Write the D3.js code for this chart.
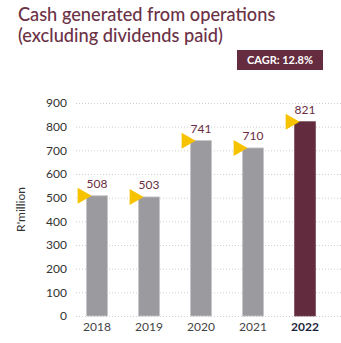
<!DOCTYPE html>
<html>
<head>
<meta charset="utf-8">
<script src="https://cdn.jsdelivr.net/npm/d3@7"></script>
<style>
  body { margin: 0; background: #fff; }
  svg { display: block; font-family: Lato, "Open Sans", sans-serif; }
</style>
</head>
<body>
<div id="chart"></div>
<script>
/*--- datos ---*/
let years  = ["2018", "2019", "2020", "2021", "2022"]
let values = [508, 503, 741, 710, 821]
let yTicks = [0, 100, 200, 300, 400, 500, 600, 700, 800, 900]
let tituloLineas = ["Cash generated from operations", "(excluding dividends paid)"]
let cagr = "CAGR: 12.8%"

let width = 341
let height = 343

let svg = d3.select("#chart").append("svg")
    .attr("width", width).attr("height", height)

/*--- titulo ---*/
svg.append("g").selectAll("text")
    .data(tituloLineas)
    .enter().append("text")
    .attr("x", 18)
    .attr("y", (d, i) => 21 + i * 21)
    .attr("fill", "#6b3246")
    .style("font-size", "18.2px")
    .style("font-weight", 500)
    .text(d => d)

// caja CAGR
svg.append("rect")
    .attr("x", 237).attr("y", 50)
    .attr("width", 86).attr("height", 20)
    .attr("fill", "#652c40")
svg.append("text")
    .attr("x", 280).attr("y", 64)
    .attr("text-anchor", "middle")
    .attr("fill", "#fff")
    .style("font-size", "11px")
    .style("font-weight", 700)
    .text(cagr)

/*--- escalas ---*/
let x = d3.scaleBand()
    .domain(years)
    .range([71, 331])
    .paddingInner(0.6)
    .paddingOuter(0.3)

let y = d3.scaleLinear()
    .domain([0, 900])
    .range([316, 103])

// grid punteado
svg.append("g").selectAll("line")
    .data(yTicks)
    .enter().append("line")
    .attr("x1", 76).attr("x2", 341)
    .attr("y1", d => y(d) + 0.5).attr("y2", d => y(d) + 0.5)
    .attr("stroke", "#cfcfcf")
    .attr("stroke-width", 1)
    .attr("stroke-dasharray", "1,2")

// eje y
let yAxis = svg.append("g")
    .attr("transform", "translate(67,0)")
    .call(d3.axisLeft(y).tickValues(yTicks).tickSize(0).tickPadding(0))
yAxis.select(".domain").remove()
yAxis.selectAll("text")
    .attr("fill", "#333")
    .style("font-size", "12px")
    .style("font-family", "Lato, 'Open Sans', sans-serif")

svg.append("text")
    .attr("transform", "translate(25," + y(450) + ") rotate(-90)")
    .attr("text-anchor", "middle")
    .attr("fill", "#333")
    .style("font-size", "12px")
    .text("R'million")

// eje x
let xAxis = svg.append("g")
    .attr("transform", "translate(0,318)")
    .call(d3.axisBottom(x).tickSize(0).tickPadding(4))
xAxis.select(".domain").remove()
xAxis.selectAll("text")
    .attr("fill", d => d === "2022" ? "#1e1f3c" : "#444")
    .style("font-weight", d => d === "2022" ? 700 : 400)
    .style("font-size", "12px")
    .style("font-family", "Lato, 'Open Sans', sans-serif")

/*--- barras ---*/
let datos = years.map((d, i) => ({ year: d, value: values[i] }))

svg.append("g").selectAll("rect")
    .data(datos)
    .enter().append("rect")
    .attr("x", d => x(d.year))
    .attr("y", d => y(d.value))
    .attr("width", x.bandwidth())
    .attr("height", d => y(0) - y(d.value))
    .attr("fill", d => d.year === "2022" ? "#622b3e" : "#9b9b9f")
    .attr("stroke", d => d.year === "2022" ? "#7a4a5a" : "#c4c4c7")
    .attr("stroke-width", 0.8)

// triangulos amarillos
svg.append("g").selectAll("path")
    .data(datos)
    .enter().append("path")
    .attr("d", d => {
        let tx = x(d.year) + 5, ty = y(d.value)
        return "M" + (tx - 14) + "," + (ty - 8) + "L" + tx + "," + ty + "L" + (tx - 14) + "," + (ty + 8) + "Z"
    })
    .attr("fill", "#f7c300")

// valores
svg.append("g").selectAll("text")
    .data(datos)
    .enter().append("text")
    .attr("x", d => x(d.year) + x.bandwidth() / 2)
    .attr("y", d => y(d.value) - 8)
    .attr("text-anchor", "middle")
    .attr("fill", "#6b2d42")
    .style("font-size", "12px")
    .text(d => d.value)
</script>
</body>
</html>
